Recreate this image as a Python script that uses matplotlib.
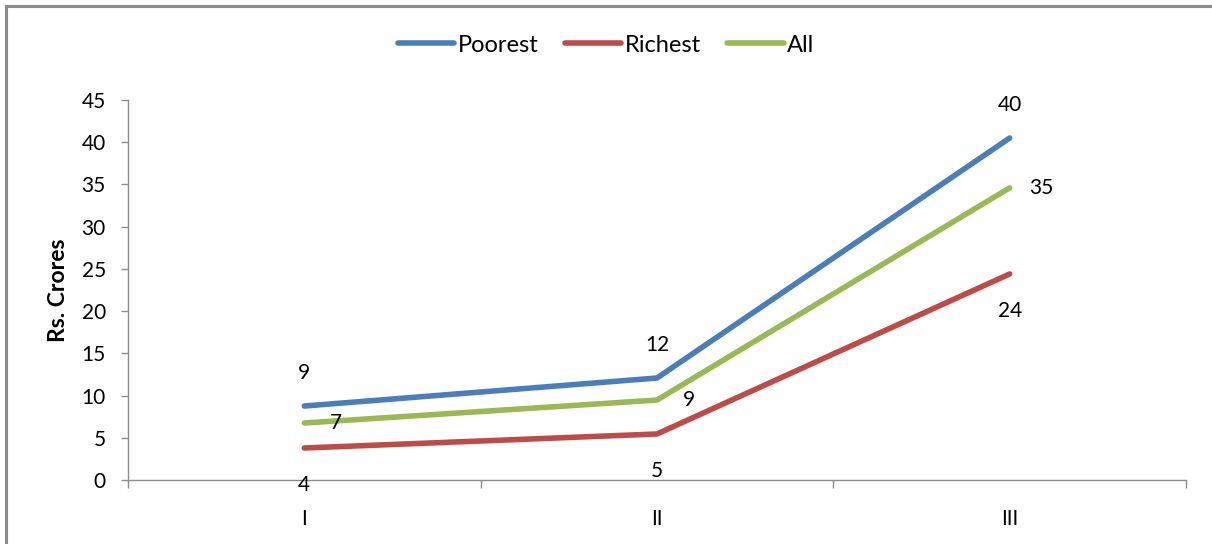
import numpy as np
import matplotlib.pyplot as plt
from matplotlib.lines import Line2D

plt.rcParams['font.family'] = ['Lato', 'DejaVu Sans']

phases = ['I', 'II', 'III']
poorest = [8.76, 12.08, 40.5]
richest = [3.79, 5.45, 24.4]
everyone = [6.75, 9.47, 34.6]
y_ticks = [0, 5, 10, 15, 20, 25, 30, 35, 40, 45]

W, H = 1212, 544
fig = plt.figure(figsize=(W / 100, H / 100), dpi=100)
ax = fig.add_axes([128 / W, 1 - 480 / H, (1186 - 128) / W, 380 / H])

x = np.arange(len(phases))
# label offsets in pixels relative to each point
series = [
    ('Poorest', poorest, '#4a7ebb', (0, 33)),
    ('Richest', richest, '#be4b48', (0, -37)),
    ('All', everyone, '#98b954', (32, 0)),
]
for name, vals, col, off in series:
    ax.plot(x, vals, color=col, lw=4, solid_capstyle='round', label=name)
    for xi, v in zip(x, vals):
        ax.annotate('%.0f' % v, (xi, v), xytext=off, textcoords='offset pixels',
                    ha='center', va='center', fontsize=15, color='black')

ax.set_xlim(-0.5, len(phases) - 0.5)
ax.set_ylim(0, 45)
ax.set_yticks(y_ticks)
ax.set_xticks(x)
ax.set_xticklabels(phases)
ax.set_xticks(np.arange(-0.5, len(phases), 1), minor=True)
ax.tick_params(axis='x', which='major', length=0, pad=21, labelsize=15)
ax.tick_params(axis='x', which='minor', length=6, color='#8c8c8c', width=1)
ax.tick_params(axis='y', length=5, color='#8c8c8c', width=1, labelsize=15, pad=11)

for side in ['top', 'right']:
    ax.spines[side].set_visible(False)
for side in ['left', 'bottom']:
    ax.spines[side].set_color('#8c8c8c')
    ax.spines[side].set_linewidth(1)

ax.set_ylabel('Rs. Crores', fontsize=16.5, fontweight='bold', labelpad=9)

handles = [Line2D([], [], color=c, lw=4, solid_capstyle='round') for _, _, c, _ in series]
fig.legend(handles, [s[0] for s in series], loc='center', bbox_to_anchor=(0.5, 1 - 45 / H),
           ncol=3, frameon=False, fontsize=17, handlelength=2.4, handletextpad=0.15,
           columnspacing=1.1)

# outer chart frame, left and top edges
fig.add_artist(Line2D([5.5 / W, 5.5 / W], [0, 1 - 5.5 / H], color='#8c8c8c', lw=2.2))
fig.add_artist(Line2D([5.5 / W, 1], [1 - 5.5 / H, 1 - 5.5 / H], color='#8c8c8c', lw=2.2))

fig.savefig('out.png', dpi=100)
